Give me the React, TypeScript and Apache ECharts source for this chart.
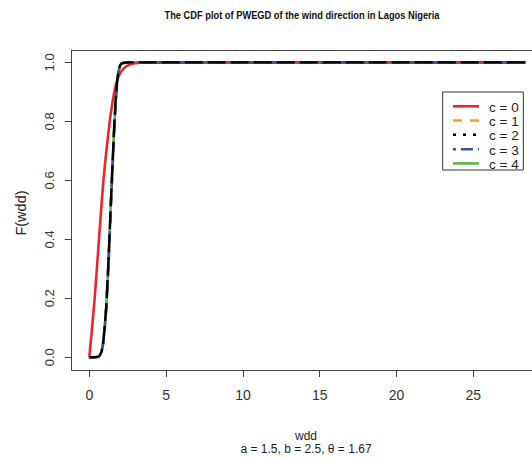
import React, { useEffect, useRef } from "react";
import * as echarts from "echarts";

const titleText = "The CDF plot of PWEGD of the wind direction in Lagos Nigeria";
const xAxisTitle = "wdd";
const xAxisSubtitle = "a = 1.5, b = 2.5, θ = 1.67";
const yAxisTitle = "F(wdd)";
const xTicks = [0, 5, 10, 15, 20, 25];
const yTicks = [0, 0.2, 0.4, 0.6, 0.8, 1.0];
const seriesNames = ["c = 0", "c = 1", "c = 2", "c = 3", "c = 4"];
const seriesColors = ["#e8262b", "#f7a11a", "#000000", "#3a53a4", "#5cb746"];

// c = 0 curve
const xC0 = [0, 0.18, 0.35, 0.49, 0.63, 0.77, 0.92, 1.11, 1.33, 1.48, 1.63, 1.76, 1.89, 2.05, 2.26, 2.5, 2.8, 3.1, 3.41, 5, 10, 15, 20, 25, 28.4];
const yC0 = [0, 0.1, 0.2, 0.3, 0.4, 0.5, 0.6, 0.7, 0.8, 0.855, 0.9, 0.93, 0.95, 0.967, 0.98, 0.989, 0.995, 0.998, 1, 1, 1, 1, 1, 1, 1];

// c = 1..4 curves share x grid
const xC = [0, 0.3, 0.6, 0.7, 0.8, 0.9, 1.0, 1.1, 1.2, 1.3, 1.4, 1.5, 1.6, 1.7, 1.8, 1.9, 2.0, 2.1, 2.2, 2.5, 3, 5, 10, 15, 20, 25, 28.4];
const yC1 = [0, 0, 0.002, 0.008, 0.019, 0.048, 0.097, 0.167, 0.265, 0.385, 0.515, 0.635, 0.755, 0.855, 0.928, 0.969, 0.99, 0.996, 0.998, 1, 1, 1, 1, 1, 1, 1, 1];
const yC2 = [0, 0, 0.002, 0.008, 0.02, 0.05, 0.1, 0.17, 0.27, 0.39, 0.52, 0.64, 0.76, 0.86, 0.93, 0.97, 0.99, 0.996, 0.998, 1, 1, 1, 1, 1, 1, 1, 1];
const yC3 = [0, 0, 0.002, 0.007, 0.018, 0.047, 0.095, 0.165, 0.26, 0.38, 0.51, 0.63, 0.75, 0.85, 0.925, 0.968, 0.989, 0.996, 0.998, 1, 1, 1, 1, 1, 1, 1, 1];
const yC4 = [0, 0, 0.002, 0.008, 0.019, 0.048, 0.097, 0.167, 0.265, 0.385, 0.515, 0.635, 0.755, 0.855, 0.928, 0.969, 0.99, 0.996, 0.998, 1, 1, 1, 1, 1, 1, 1, 1];

const FONT = "'Liberation Sans', Arial, sans-serif";

export default function App() {
  const ref = useRef<HTMLDivElement>(null);
  useEffect(() => {
    if (!ref.current) return;
    const chart = echarts.init(ref.current, null, { renderer: "svg" });
    const pair = (xs: number[], ys: number[]) => xs.map((x, i) => [x, ys[i]]);
    const datasets = [pair(xC0, yC0), pair(xC, yC1), pair(xC, yC2), pair(xC, yC3), pair(xC, yC4)];
    const dashes: any[] = ["solid", [9, 7], [18, 5], [10, 8], "solid"];
    // draw order: orange, green, red, blue, black
    const order = [1, 4, 0, 3, 2];
    const series = order.map((i, k) => ({
      name: seriesNames[i],
      type: "line",
      data: datasets[i],
      showSymbol: false,
      smooth: i === 0 ? 0.25 : false,
      z: 2 + k,
      lineStyle: { color: seriesColors[i], width: i === 2 ? 2.4 : 2.6, type: dashes[i], join: "round" },
      emphasis: { disabled: true },
    }));

    const legendX0 = 453;
    const legendX1 = 479;
    const legendRows = [106.3, 120.5, 134.8, 149.2, 163.4];
    const legendDash: any[] = [null, [9, 8], [3, 7], [3, 5, 12, 5], null];
    const legendGraphics: any[] = [
      {
        type: "rect",
        shape: { x: 442.7, y: 92, width: 80.6, height: 78 },
        style: { fill: "#fff", stroke: "#333", lineWidth: 1 },
        z: 100,
      },
    ];
    seriesNames.forEach((name, i) => {
      legendGraphics.push({
        type: "line",
        shape: { x1: legendX0, y1: legendRows[i], x2: legendX1, y2: legendRows[i] },
        style: { stroke: seriesColors[i], lineWidth: 2.6, lineDash: legendDash[i] || undefined },
        z: 101,
      });
      legendGraphics.push({
        type: "text",
        x: 489,
        y: legendRows[i] + 1,
        style: { text: name, font: `13.5px ${FONT}`, fill: "#222", textVerticalAlign: "middle" },
        z: 101,
      });
    });

    const boxLine = { show: true, onZero: false, lineStyle: { color: "#444", width: 1 } };

    chart.setOption({
      animation: false,
      grid: {
        left: 71.7,
        top: 50,
        bottom: 91,
        right: 0,
        show: false,
      },
      xAxis: [
        {
          type: "value",
          min: -1.146,
          max: 28.82,
          splitLine: { show: false },
          axisLine: boxLine,
          axisTick: { show: true, length: 7, customValues: xTicks, lineStyle: { color: "#444" } },
          axisLabel: {
            customValues: xTicks,
            margin: 18,
            color: "#333",
            fontSize: 14,
            fontFamily: FONT,
          },
        },
        {
          type: "value",
          position: "top",
          min: -1.146,
          max: 28.82,
          splitLine: { show: false },
          axisLine: boxLine,
          axisTick: { show: false },
          axisLabel: { show: false },
        },
      ],
      yAxis: {
        type: "value",
        min: -0.043,
        max: 1.042,
        splitLine: { show: false },
        axisLine: boxLine,
        axisTick: { show: true, length: 7, customValues: yTicks, lineStyle: { color: "#444" } },
        axisLabel: {
          customValues: yTicks,
          rotate: 90,
          margin: 16,
          color: "#333",
          fontSize: 13,
          fontFamily: FONT,
          formatter: (v: number) => v.toFixed(1),
        },
      },
      series,
      graphic: [
        {
          type: "text",
          x: 302,
          y: 15,
          scaleX: 0.885,
          style: {
            text: titleText,
            font: `bold 10.5px ${FONT}`,
            fill: "#111",
            textAlign: "center",
            textVerticalAlign: "middle",
          },
        },
        {
          type: "text",
          x: 306,
          y: 436,
          style: { text: xAxisTitle, font: `12px ${FONT}`, fill: "#222", textAlign: "center", textVerticalAlign: "middle" },
        },
        {
          type: "text",
          x: 306,
          y: 449,
          style: { text: xAxisSubtitle, font: `12px ${FONT}`, fill: "#222", textAlign: "center", textVerticalAlign: "middle" },
        },
        {
          type: "text",
          x: 20.7,
          y: 213,
          rotation: Math.PI / 2,
          style: { text: yAxisTitle, font: `14.5px ${FONT}`, fill: "#222", textAlign: "center", textVerticalAlign: "middle" },
        },
        ...legendGraphics,
      ],
    });
    return () => chart.dispose();
  }, []);
  return <div ref={ref} style={{ width: 532, height: 461, position: "absolute", left: 0, top: 0 }} />;
}
